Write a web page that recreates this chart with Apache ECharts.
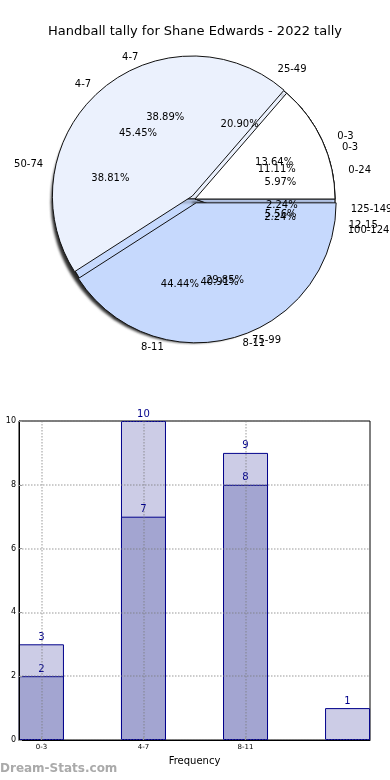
<!DOCTYPE html>
<html><head><meta charset="utf-8">
<script src="https://cdn.jsdelivr.net/npm/echarts@6/dist/echarts.min.js"></script>
<style>html,body{margin:0;padding:0;background:#fff}#c{width:390px;height:780px}</style>
</head><body><div id="c"></div>
<script>
const chartTitle = 'Handball tally for Shane Edwards - 2022 tally';
// pie 1 (top)
const pieALabels = ['0-3', '4-7', '8-11'];
const pieAValues = [3, 10, 9];
// pie 2
const pieBLabels = ['0-3', '4-7', '8-11', '12-15'];
const pieBValues = [2, 7, 8, 1];
// pie 3 (bottom)
const pieCLabels = ['0-24', '25-49', '50-74', '75-99', '100-124', '125-149'];
const pieCValues = [8, 28, 52, 40, 3, 3];
// bar chart
const barCategories = ['0-3', '4-7', '8-11', '12-15'];
const barOuter = [3, 10, 9, 1];
const barInner = [2, 7, 8, null];
const xTickLabels = ['0-3', '4-7', '8-11'];

const FONT = 'DejaVu Sans';
const sliceColors = {
  '0-3': '#ffffff', '4-7': '#ebf1fd', '8-11': '#c6d9fd', '12-15': '#c6d9fd',
  '0-24': '#ffffff', '25-49': '#ffffff', '50-74': '#ebf1fd', '75-99': '#c6d9fd',
  '100-124': '#c6d9fd', '125-149': '#ffffff'
};
const CX = 195, CY = 199, R = 140;

function pieData(labels, values, selectedNames) {
  return labels.map((n, i) => ({
    name: n, value: values[i],
    selected: selectedNames ? selectedNames.includes(n) : false,
    itemStyle: { color: sliceColors[n] }
  }));
}
function realPie(labels, values, selectedNames, shadow) {
  return {
    type: 'pie', center: [CX, CY], radius: [0, R],
    startAngle: 0, clockwise: false, silent: true,
    selectedMode: 'multiple', selectedOffset: 4,
    avoidLabelOverlap: false, animation: false,
    label: { show: false }, labelLine: { show: false },
    itemStyle: Object.assign({ borderColor: '#111', borderWidth: 1 }, shadow ? {
      shadowBlur: 3, shadowColor: 'rgba(0,0,0,0.6)', shadowOffsetX: -3, shadowOffsetY: 3 } : {}),
    emphasis: { disabled: true },
    data: pieData(labels, values, selectedNames)
  };
}
function nameOverlay(labels, values) {
  return {
    type: 'pie', center: [CX, CY], radius: [0, R], z: 5,
    startAngle: 0, clockwise: false, silent: true,
    avoidLabelOverlap: false, animation: false,
    labelLayout: { hideOverlap: false, moveOverlap: null },
    itemStyle: { color: 'rgba(0,0,0,0)', borderWidth: 0 },
    label: { show: true, position: 'outside', color: '#000', fontFamily: FONT, fontSize: 10, formatter: '{b}' },
    labelLine: { show: false, length: 11, length2: 0 },
    emphasis: { disabled: true },
    data: labels.map((n, i) => ({ name: n, value: values[i] }))
  };
}
function pctOverlay(labels, values) {
  const total = values.reduce((a, b) => a + b, 0);
  return {
    type: 'pie', center: [CX, CY], radius: [R * 0.2, R], z: 5,
    startAngle: 0, clockwise: false, silent: true,
    avoidLabelOverlap: false, animation: false,
    labelLayout: { hideOverlap: false, moveOverlap: null },
    itemStyle: { color: 'rgba(0,0,0,0)', borderWidth: 0 },
    label: { show: true, position: 'inside', color: '#000', fontFamily: FONT, fontSize: 10,
      formatter: p => (p.value / total * 100).toFixed(2) + '%' },
    labelLine: { show: false },
    emphasis: { disabled: true },
    data: labels.map((n, i) => ({ name: n, value: values[i] }))
  };
}

const chart = echarts.init(document.getElementById('c'), null, { renderer: 'canvas' });
chart.setOption({
  animation: false,
  backgroundColor: '#fff',
  title: { text: chartTitle, left: 'center', top: 20,
    textStyle: { fontFamily: FONT, fontSize: 13, fontWeight: 'normal', color: '#000' } },
  graphic: [{ type: 'text', left: 0, top: 763,
    style: { text: 'Dream-Stats.com', fontFamily: FONT, fontSize: 12, fontWeight: 'bold', fill: '#aaa' } }],
  grid: { left: 19, right: 20, top: 421, bottom: 40, show: true, borderColor: '#000', borderWidth: 1,
    containLabel: false, outerBoundsMode: 'none' },
  xAxis: {
    type: 'value', min: -0.22, max: 3.22, z: 4,
    name: 'Frequency', nameLocation: 'middle', nameGap: 16,
    nameTextStyle: { fontFamily: FONT, fontSize: 10, color: '#000' },
    axisLine: { show: true, onZero: false, lineStyle: { color: '#000' } },
    axisTick: { show: true, customValues: [0, 1, 2], length: 3, inside: true, lineStyle: { color: '#999' } },
    axisLabel: { customValues: [0, 1, 2], fontFamily: FONT, fontSize: 7, color: '#000', margin: 4,
      formatter: v => xTickLabels[Math.round(v)] || '' },
    splitLine: { show: true, lineStyle: { type: 'dotted', color: 'rgba(120,120,120,0.5)', width: 1.5 } }
  },
  yAxis: {
    type: 'value', min: 0, max: 10, interval: 2, z: 4,
    name: 'Total Tally', nameLocation: 'middle', nameGap: 2,
    nameTextStyle: { fontFamily: FONT, fontSize: 9, color: '#000' },
    axisLine: { show: true, onZero: false, lineStyle: { color: '#000' } },
    axisTick: { show: true, length: 3, inside: true, lineStyle: { color: '#999' } },
    axisLabel: { fontFamily: FONT, fontSize: 8, color: '#000', margin: 3 },
    splitLine: { show: true, lineStyle: { type: 'dotted', color: 'rgba(120,120,120,0.5)', width: 1.5 } }
  },
  series: [
    realPie(pieCLabels, pieCValues, null, true),
    realPie(pieBLabels, pieBValues, null, true),
    realPie(pieALabels, pieAValues, ['4-7', '8-11'], false),
    nameOverlay(pieCLabels, pieCValues),
    nameOverlay(pieBLabels, pieBValues),
    nameOverlay(pieALabels, pieAValues),
    pctOverlay(pieCLabels, pieCValues),
    pctOverlay(pieBLabels, pieBValues),
    pctOverlay(pieALabels, pieAValues),
    {
      type: 'bar', barWidth: 45, barGap: '-100%',
      data: barOuter.map((v, i) => [i, v]),
      itemStyle: { color: '#ccccE6', borderColor: '#00008b', borderWidth: 1 },
      label: { show: true, position: 'top', distance: 2, color: '#00008b', fontFamily: FONT, fontSize: 10 },
      emphasis: { disabled: true }
    },
    {
      type: 'bar', barWidth: 45, barGap: '-100%',
      data: barInner.map((v, i) => [i, v]),
      itemStyle: { color: '#a3a5d1', borderColor: '#00008b', borderWidth: 1 },
      label: { show: true, position: 'top', distance: 2, color: '#00008b', fontFamily: FONT, fontSize: 10 },
      emphasis: { disabled: true }
    }
  ]
});
</script></body></html>
